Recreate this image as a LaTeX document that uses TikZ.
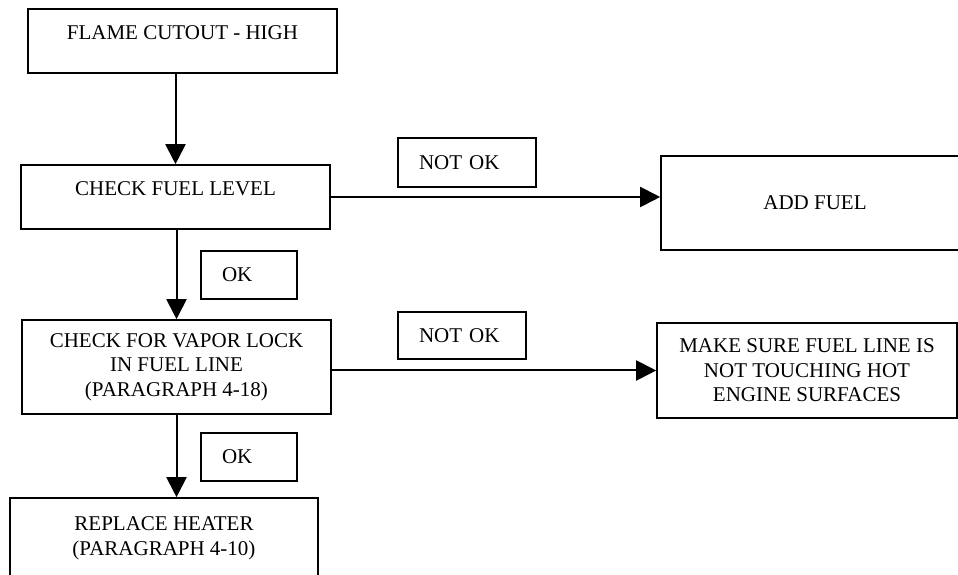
\documentclass[tikz,border=0pt]{standalone}
\usepackage{fontspec}
\setmainfont{Liberation Serif}
\usetikzlibrary{positioning, arrows.meta}

\begin{document}
\begin{tikzpicture}[x=1pt, y=1pt,
  font=\fontsize{21}{24.5}\selectfont,
  box/.style={draw, line width=1.6pt, align=center, inner sep=0pt,
    minimum width=309pt, minimum height=64pt},
  raised/.style={text height=15pt, text depth=17pt},
  tag/.style={draw, line width=1.6pt, align=left, inner xsep=21pt,
    inner ysep=0pt},
  link/.style={line width=2pt, -{Triangle[length=20pt, width=20pt]}}]
  \useasboundingbox (0,0) rectangle (958,575);
  % main column
  \node[box, raised] (flame) at (182.5,534) {FLAME CUTOUT - HIGH};
  \node[box, raised] (level) at (175.5,378) {CHECK FUEL LEVEL};
  \node[box, minimum height=94pt] (vapor) at (176.5,208)
    {CHECK FOR VAPOR LOCK\\IN FUEL LINE\\(PARAGRAPH 4-18)};
  \node[box, minimum width=308pt, minimum height=90pt,
    text height=40pt, text depth=15pt] (heater) at (164,32)
    {REPLACE HEATER\\(PARAGRAPH 4-10)};
  % actions on the right
  \node[box, minimum width=308pt, minimum height=94pt] (addfuel) at (815,372)
    {ADD FUEL};
  \node[box, minimum width=300pt, minimum height=95pt] (fuelline) at (807,204.5)
    {MAKE SURE FUEL LINE IS\\NOT TOUCHING HOT\\ENGINE SURFACES};
  % answer tags
  \node[tag, text width=54pt, minimum height=48pt] (okA) at (249,300) {OK};
  \node[tag, text width=54pt, minimum height=48pt] (okB) at (249,118) {OK};
  \node[tag, text width=96pt, minimum height=49pt] (notokA) at (467,412.5) {NOT OK};
  \node[tag, text width=86pt, minimum height=47pt] (notokB) at (462,239.5) {NOT OK};

  \draw[link] (flame.south -| level.north) -- (level.north);
  \draw[link] (level.south -| vapor.north) -- (vapor.north);
  \draw[link] (vapor.south) -- (vapor.south |- heater.north);
  \draw[link] (level.east) -- (level.east -| addfuel.west);
  \draw[link] (fuelline.west -| vapor.east) -- (fuelline.west);
\end{tikzpicture}
\end{document}
